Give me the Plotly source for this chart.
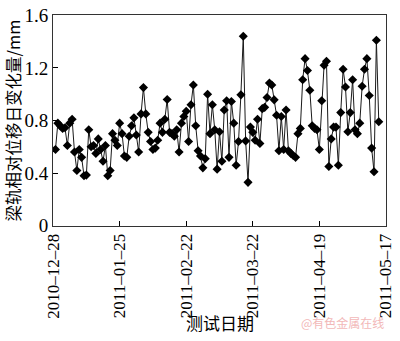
import plotly.graph_objects as go
import pandas as pd

# Daily values (mm), starting 2010-12-29
start_date = "2010-12-29"
values = [
    0.58, 0.78, 0.76, 0.74, 0.745, 0.61, 0.78, 0.81, 0.56, 0.42,
    0.58, 0.52, 0.38, 0.385, 0.73, 0.60, 0.61, 0.55, 0.66, 0.58,
    0.49, 0.61, 0.38, 0.42, 0.70, 0.65, 0.61, 0.78, 0.70, 0.53,
    0.52, 0.68, 0.76, 0.82, 0.69, 0.56, 0.85, 1.05, 0.85, 0.71,
    0.64, 0.58, 0.59, 0.65, 0.78, 0.71, 0.81, 0.96, 0.71, 0.70,
    0.68, 0.73, 0.56, 0.78, 0.83, 0.87, 0.64, 0.92, 1.07, 0.76,
    0.57, 0.53, 0.44, 0.51, 1.00, 0.70, 0.92, 0.73, 0.43, 0.715,
    0.49, 0.88, 0.95, 0.52, 0.945, 0.78, 0.46, 0.64, 0.995, 1.44,
    0.645, 0.33, 0.75, 0.71, 0.65, 0.81, 0.625, 0.89, 0.90, 0.975,
    1.085, 1.07, 0.957, 0.84, 0.57, 0.83, 0.58, 0.88, 0.57, 0.55,
    0.534, 0.52, 0.70, 0.74, 1.11, 1.27, 1.18, 1.03, 0.76, 0.74,
    0.73, 0.58, 0.95, 1.22, 1.25, 0.45, 0.66, 0.75, 0.75, 0.46,
    0.86, 1.19, 1.055, 0.715, 0.86, 1.11, 0.73, 0.70, 0.78, 1.06,
    1.19, 1.27, 0.99, 0.59, 0.41, 1.41, 0.79,
]
dates = pd.date_range(start_date, periods=len(values), freq="D")

x_tick_vals = ["2010-12-28", "2011-01-25", "2011-02-22", "2011-03-22", "2011-04-19", "2011-05-17"]
x_tick_text = ["2010\u201312\u201328", "2011\u201301\u201325", "2011\u201302\u201322",
               "2011\u201303\u201322", "2011\u201304\u201319", "2011\u201305\u201317"]
x_range = ["2010-12-27 23:00", "2011-05-17 01:00"]
y_tick_vals = [0, 0.4, 0.8, 1.2, 1.6]
y_tick_text = ["0", "0.4", "0.8", "1.2", "1.6"]
y_range = [-0.002, 1.602]

y_title = "梁轨相对位移日变化量/mm"
x_title = "测试日期"
watermark = "@有色金属在线"

fig = go.Figure()
fig.add_trace(go.Scatter(
    x=dates, y=values, mode="lines+markers",
    line=dict(color="#1a1a1a", width=1),
    marker=dict(symbol="diamond", size=7, color="#000000"),
    showlegend=False,
))

serif = "Liberation Serif, Times New Roman, serif"
fig.update_layout(
    width=400, height=341,
    margin=dict(l=53, r=5, t=5, b=115),
    paper_bgcolor="white", plot_bgcolor="white",
    font=dict(family=serif, size=18, color="#000000"),
    xaxis=dict(
        type="date",
        range=x_range,
        tickvals=x_tick_vals, ticktext=x_tick_text,
        tickangle=-90,
        ticks="inside", ticklen=5, tickcolor="#000",
        showline=True, linecolor="#333", linewidth=1, mirror=True,
        showgrid=False, zeroline=False,
        ticklabeloverflow="allow",
        tickfont=dict(family=serif, size=17),
    ),
    yaxis=dict(
        range=y_range,
        tickvals=y_tick_vals, ticktext=y_tick_text,
        ticks="inside", ticklen=5, tickcolor="#000",
        showline=True, linecolor="#333", linewidth=1, mirror=True,
        showgrid=False, zeroline=False,
        ticklabeloverflow="allow",
        tickfont=dict(family=serif, size=19),
    ),
    annotations=[
        dict(text=y_title, xref="paper", yref="paper", x=-0.123, y=0.5,
             xanchor="center", yanchor="middle", textangle=-90, showarrow=False,
             font=dict(family="Noto Sans CJK SC, " + serif, size=16.5, color="#000")),
        dict(text=x_title, xref="paper", yref="paper", x=0.5, y=-0.455,
             xanchor="center", yanchor="middle", showarrow=False,
             font=dict(family="Noto Sans CJK SC", size=17, color="#000")),
        dict(text=watermark, xref="paper", yref="paper", x=1.0, y=-0.455,
             xanchor="right", yanchor="middle", showarrow=False,
             font=dict(family="Noto Sans CJK SC", size=12, color="#f2b8b8")),
    ],
)

fig.write_html("out.html")
